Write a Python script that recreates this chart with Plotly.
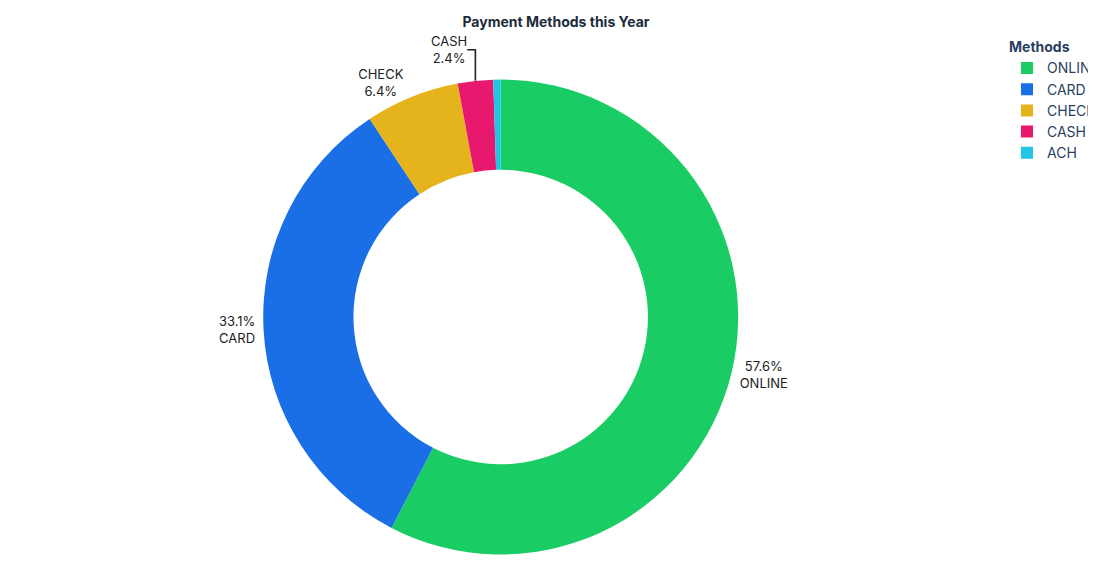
import plotly.graph_objects as go

methods = ["ONLINE", "CARD", "CHECK", "CASH", "ACH"]
shares = [57.6, 33.1, 6.4, 2.4, 0.5]
colors = ["#19cc63", "#1a6fe6", "#e5b31c", "#e8186f", "#1fc6e8"]
slice_text = ["57.6%<br>ONLINE", "33.1%<br>CARD", "CHECK<br>6.4%", "CASH<br>2.4%", ""]

fig = go.Figure(go.Pie(
    labels=methods,
    values=shares,
    text=slice_text,
    textinfo="text",
    textposition="outside",
    hole=0.62,
    sort=False,
    direction="clockwise",
    rotation=0,
    automargin=False,
    domain=dict(x=[259 / 1096, 741 / 1096], y=[32 / 582, 514 / 582]),
    marker=dict(colors=colors),
    textfont=dict(size=13, color="#222"),
))

fig.update_layout(
    title=dict(text="<b>Payment Methods this Year</b>", x=0.5, xanchor="center",
               y=0.975, yanchor="middle", font=dict(size=14, color="#1c2b3a")),
    font=dict(family="Inter, Roboto, sans-serif"),
    legend=dict(title=dict(text="<b>Methods</b>", font=dict(size=14)),
                x=0.925, y=0.955, xanchor="left", yanchor="top",
                font=dict(size=14), tracegroupgap=0),
    margin=dict(l=0, r=0, t=0, b=0),
    paper_bgcolor="white",
    width=1096, height=582,
)

fig.write_html("out.html")
